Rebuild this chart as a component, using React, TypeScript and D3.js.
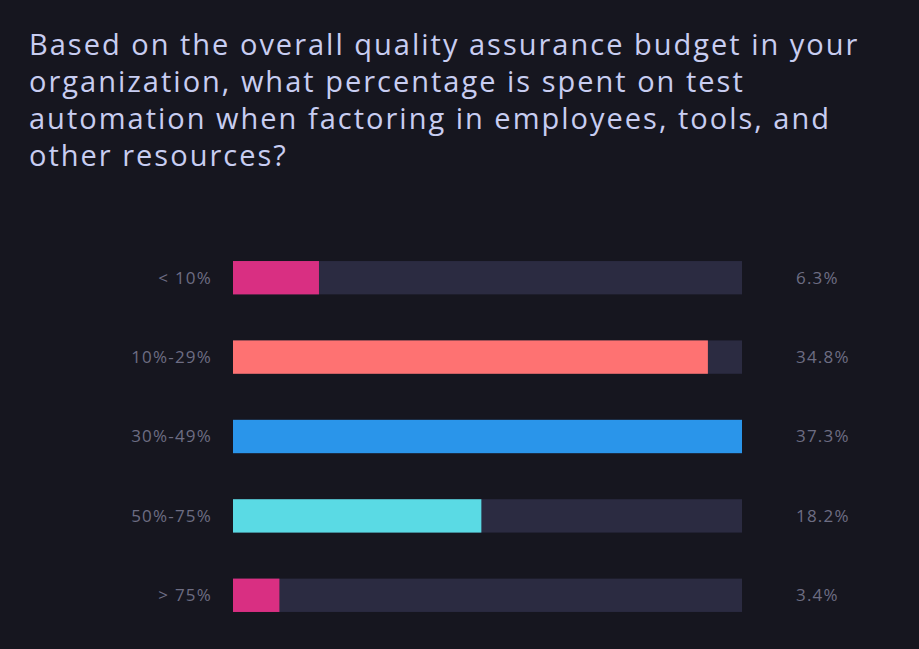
import { useRef, useEffect } from 'react';
import * as d3 from 'd3';

const categories = ['< 10%', '10%-29%', '30%-49%', '50%-75%', '> 75%'];
const values = [6.3, 34.8, 37.3, 18.2, 3.4];
const barColors = ['#d92f82', '#fe7272', '#2a95ea', '#5adae4', '#d92f82'];
const titleLines = [
  'Based on the overall quality assurance budget in your',
  'organization, what percentage is spent on test',
  'automation when factoring in employees, tools, and',
  'other resources?',
];

export default function App() {
  const svgRef = useRef<SVGSVGElement>(null);

  useEffect(() => {
    const width = 919;
    const height = 649;
    const svg = d3.select(svgRef.current);
    svg.selectAll('*').remove();

    svg.append('rect').attr('width', width).attr('height', height).attr('fill', '#16161f');

    // title
    svg.append('g')
      .selectAll('text')
      .data(titleLines)
      .join('text')
      .attr('x', 29)
      .attr('y', (d, i) => 55 + i * 37)
      .attr('fill', '#c8cdf1')
      .style('font-family', "'Open Sans', sans-serif")
      .style('font-size', '29px')
      .style('letter-spacing', '2px')
      .text(d => d);

    const x = d3.scaleLinear()
      .domain([0, d3.max(values)])
      .range([233, 742]);

    const y = d3.scaleBand()
      .domain(categories)
      .range([238, 635])
      .paddingInner(0.58)
      .paddingOuter(0.29);

    const rows = svg.append('g')
      .selectAll('g')
      .data(categories)
      .join('g');

    // background track
    rows.append('rect')
      .attr('x', x(0))
      .attr('y', d => y(d))
      .attr('width', x.range()[1] - x(0))
      .attr('height', y.bandwidth())
      .attr('fill', '#2b2b41');

    rows.append('rect')
      .attr('x', x(0))
      .attr('y', d => y(d))
      .attr('width', (d, i) => x(values[i]) - x(0))
      .attr('height', y.bandwidth())
      .attr('fill', (d, i) => barColors[i]);

    rows.append('text')
      .attr('x', 212)
      .attr('y', d => y(d) + y.bandwidth() / 2)
      .attr('dy', '0.35em')
      .attr('text-anchor', 'end')
      .attr('fill', '#6d6d83')
      .style('font-family', "'Open Sans', sans-serif")
      .style('font-size', '17px')
      .style('letter-spacing', '1.2px')
      .text(d => d);

    rows.append('text')
      .attr('x', 796)
      .attr('y', d => y(d) + y.bandwidth() / 2)
      .attr('dy', '0.35em')
      .attr('fill', '#6d6d83')
      .style('font-family', "'Open Sans', sans-serif")
      .style('font-size', '17px')
      .style('letter-spacing', '1.2px')
      .text((d, i) => values[i].toFixed(1) + '%');
  }, []);

  return (
    <svg
      ref={svgRef}
      width={919}
      height={649}
      style={{ position: 'absolute', left: 0, top: 0 }}
    />
  );
}
